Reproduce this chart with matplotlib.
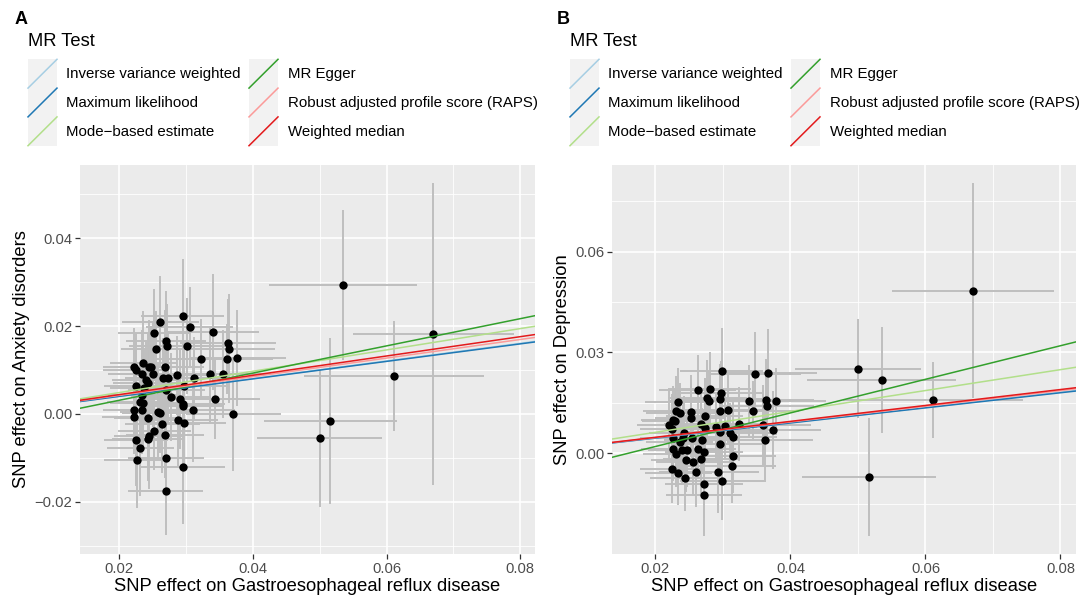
import matplotlib
matplotlib.use("Agg")
import matplotlib.pyplot as plt
from matplotlib.patches import Rectangle
from matplotlib.lines import Line2D

plt.rcParams['font.family'] = ['Liberation Sans', 'DejaVu Sans']

# ---- panel A: Gastroesophageal reflux disease -> Anxiety disorders ----
xA = [0.0262, 0.0295, 0.0306, 0.0253, 0.0340, 0.0270, 0.0272, 0.0255, 0.0301, 0.0363,
      0.0365, 0.0323, 0.0361, 0.0377, 0.0236, 0.0223, 0.0225, 0.0245, 0.0248, 0.0269,
      0.0235, 0.0251, 0.0286, 0.0336, 0.0356, 0.0241, 0.0244, 0.0266, 0.0274, 0.0312,
      0.0226, 0.0237, 0.0271, 0.0297, 0.0235, 0.0231, 0.0236, 0.0278, 0.0291, 0.0295,
      0.0296, 0.0343, 0.0310, 0.0223, 0.0235, 0.0223, 0.0258, 0.0261, 0.0244, 0.0371,
      0.0288, 0.0297, 0.0265, 0.0253, 0.0269, 0.0245, 0.0243, 0.0226, 0.0232, 0.0270,
      0.0227, 0.0296, 0.0270,
      0.0535, 0.0670, 0.0611, 0.0516, 0.0500]
yA = [0.0210, 0.0222, 0.0199, 0.0185, 0.0186, 0.0165, 0.0155, 0.0149, 0.0155, 0.0162,
      0.0149, 0.0126, 0.0125, 0.0127, 0.0115, 0.0106, 0.0100, 0.0108, 0.0106, 0.0106,
      0.0091, 0.0091, 0.0088, 0.0091, 0.0091, 0.0078, 0.0070, 0.0083, 0.0083, 0.0081,
      0.0063, 0.0060, 0.0054, 0.0064, 0.0043, 0.0028, 0.0026, 0.0039, 0.0035, 0.0023,
      0.0017, 0.0034, 0.0010, 0.0008, 0.0008, -0.0006, 0.0004, 0.0002, -0.0010, 0.0000,
      -0.0014, -0.0021, -0.0024, -0.0038, -0.0047, -0.0051, -0.0058, -0.0060, -0.0078, -0.0100,
      -0.0104, -0.0121, -0.0176,
      0.0293, 0.0183, 0.0086, -0.0017, -0.0055]
xerrA = [0.0058, 0.0062, 0.0065, 0.0055, 0.0070, 0.0060, 0.0057, 0.0052, 0.0064, 0.0072,
         0.0068, 0.0066, 0.0070, 0.0073, 0.0050, 0.0047, 0.0049, 0.0053, 0.0055, 0.0058,
         0.0051, 0.0054, 0.0061, 0.0069, 0.0071, 0.0052, 0.0053, 0.0057, 0.0059, 0.0064,
         0.0048, 0.0050, 0.0058, 0.0063, 0.0051, 0.0049, 0.0050, 0.0060, 0.0062, 0.0063,
         0.0061, 0.0068, 0.0064, 0.0047, 0.0050, 0.0048, 0.0056, 0.0057, 0.0052, 0.0071,
         0.0060, 0.0063, 0.0056, 0.0054, 0.0058, 0.0052, 0.0053, 0.0048, 0.0050, 0.0057,
         0.0049, 0.0063, 0.0056,
         0.0110, 0.0120, 0.0135, 0.0099, 0.0093]
yerrA = [0.0105, 0.0130, 0.0090, 0.0100, 0.0132, 0.0115, 0.0095, 0.0085, 0.0110, 0.0100,
         0.0125, 0.0090, 0.0080, 0.0110, 0.0120, 0.0090, 0.0085, 0.0105, 0.0095, 0.0130,
         0.0100, 0.0120, 0.0090, 0.0110, 0.0100, 0.0085, 0.0115, 0.0090, 0.0105, 0.0095,
         0.0110, 0.0085, 0.0125, 0.0100, 0.0095, 0.0090, 0.0110, 0.0100, 0.0115, 0.0085,
         0.0105, 0.0090, 0.0120, 0.0095, 0.0100, 0.0085, 0.0110, 0.0090, 0.0100, 0.0130,
         0.0105, 0.0095, 0.0110, 0.0090, 0.0100, 0.0120, 0.0095, 0.0105, 0.0110, 0.0100,
         0.0110, 0.0130, 0.0100,
         0.0171, 0.0344, 0.0125, 0.0189, 0.0157]

# ---- panel B: Gastroesophageal reflux disease -> Depression ----
xB = [0.0298, 0.0348, 0.0367, 0.0263, 0.0281, 0.0297, 0.0234, 0.0277, 0.0279, 0.0296,
      0.0338, 0.0364, 0.0379, 0.0365, 0.0231, 0.0237, 0.0252, 0.0252, 0.0296, 0.0308,
      0.0345, 0.0273, 0.0226, 0.0229, 0.0220, 0.0268, 0.0274, 0.0290, 0.0303, 0.0324,
      0.0360, 0.0296, 0.0310, 0.0374, 0.0225, 0.0226, 0.0242, 0.0241, 0.0254, 0.0315,
      0.0269, 0.0236, 0.0363, 0.0296, 0.0226, 0.0240, 0.0247, 0.0230, 0.0263, 0.0272,
      0.0315, 0.0245, 0.0256, 0.0268, 0.0314, 0.0225, 0.0234, 0.0260, 0.0292, 0.0244,
      0.0299, 0.0272, 0.0272,
      0.0670, 0.0500, 0.0535, 0.0611, 0.0516]
yB = [0.0244, 0.0237, 0.0239, 0.0187, 0.0192, 0.0180, 0.0153, 0.0163, 0.0155, 0.0162,
      0.0154, 0.0159, 0.0155, 0.0142, 0.0125, 0.0119, 0.0122, 0.0106, 0.0126, 0.0130,
      0.0126, 0.0110, 0.0100, 0.0096, 0.0083, 0.0086, 0.0076, 0.0078, 0.0082, 0.0088,
      0.0084, 0.0064, 0.0060, 0.0069, 0.0072, 0.0044, 0.0060, 0.0045, 0.0045, 0.0048,
      0.0040, 0.0034, 0.0039, 0.0028, 0.0012, 0.0010, 0.0010, -0.0002, 0.0013, 0.0005,
      -0.0008, -0.0021, -0.0027, -0.0017, -0.0037, -0.0047, -0.0060, -0.0055, -0.0057, -0.0073,
      -0.0084, -0.0092, -0.0125,
      0.0483, 0.0252, 0.0218, 0.0159, -0.0070]
xerrB = [0.0062, 0.0068, 0.0072, 0.0057, 0.0060, 0.0063, 0.0050, 0.0058, 0.0059, 0.0062,
         0.0066, 0.0071, 0.0074, 0.0070, 0.0049, 0.0051, 0.0054, 0.0053, 0.0061, 0.0064,
         0.0068, 0.0057, 0.0048, 0.0049, 0.0047, 0.0056, 0.0058, 0.0060, 0.0063, 0.0066,
         0.0070, 0.0062, 0.0064, 0.0072, 0.0048, 0.0049, 0.0052, 0.0051, 0.0054, 0.0065,
         0.0057, 0.0050, 0.0071, 0.0062, 0.0048, 0.0051, 0.0053, 0.0049, 0.0056, 0.0058,
         0.0064, 0.0052, 0.0055, 0.0057, 0.0065, 0.0048, 0.0050, 0.0055, 0.0061, 0.0052,
         0.0062, 0.0058, 0.0057,
         0.0120, 0.0093, 0.0110, 0.0133, 0.0099]
yerrB = [0.0130, 0.0125, 0.0130, 0.0105, 0.0110, 0.0095, 0.0100, 0.0115, 0.0090, 0.0105,
         0.0110, 0.0120, 0.0100, 0.0095, 0.0105, 0.0090, 0.0110, 0.0095, 0.0100, 0.0105,
         0.0090, 0.0115, 0.0100, 0.0095, 0.0110, 0.0090, 0.0105, 0.0100, 0.0095, 0.0110,
         0.0120, 0.0100, 0.0090, 0.0115, 0.0105, 0.0095, 0.0110, 0.0100, 0.0090, 0.0105,
         0.0095, 0.0110, 0.0125, 0.0100, 0.0095, 0.0105, 0.0110, 0.0100, 0.0090, 0.0105,
         0.0110, 0.0095, 0.0100, 0.0105, 0.0110, 0.0100, 0.0095, 0.0105, 0.0120, 0.0100,
         0.0115, 0.0100, 0.0120,
         0.0320, 0.0147, 0.0159, 0.0114, 0.0176]

# MR estimates (slope, intercept)
methods = ['Inverse variance weighted', 'Maximum likelihood', 'Mode\u2212based estimate',
           'MR Egger', 'Robust adjusted profile score (RAPS)', 'Weighted median']
colors = ['#A6CEE3', '#1F78B4', '#B2DF8A', '#33A02C', '#FB9A99', '#E31A1C']
slopeA = [0.201, 0.1995, 0.243, 0.310, 0.212, 0.220]
interA = [0.0, 0.0, 0.0, -0.0031, 0.0, 0.0]
slopeB = [0.227, 0.225, 0.311, 0.500, 0.233, 0.237]
interB = [0.0, 0.0, 0.0, -0.0080, 0.0, 0.0]

W, H = 1082, 599
fig = plt.figure(figsize=(W / 100, H / 100), dpi=100)


def fx(px):
    return px / W


def fy(py):
    return 1 - py / H


def panel(l, r, xs, ys, xe, ye, slopes, inters, xlim, ylim, xticks, yticks, ymin_ticks, ylab):
    ax = fig.add_axes([fx(l), fy(554), fx(r) - fx(l), fy(165) - fy(554)])
    ax.set_facecolor('#EBEBEB')
    for s in ax.spines.values():
        s.set_visible(False)
    ax.set_xlim(*xlim)
    ax.set_ylim(*ylim)
    ax.set_xticks(xticks)
    ax.set_xticklabels(['%.2f' % t for t in xticks])
    ax.set_yticks(yticks)
    ax.set_yticklabels([('%.2f' % t).replace('-', '\u2212') for t in yticks])
    ax.set_xticks([0.03, 0.05, 0.07], minor=True)
    ax.set_yticks(ymin_ticks, minor=True)
    ax.tick_params(which='major', length=3.5, width=0.9, color='#333333',
                   labelcolor='#4D4D4D', labelsize=10.6, pad=2)
    ax.tick_params(which='minor', length=0)
    ax.grid(which='major', color='white', lw=1.2)
    ax.grid(which='minor', color='white', lw=0.6)
    ax.set_axisbelow(True)
    ax.errorbar(xs, ys, xerr=xe, yerr=ye, fmt='none', ecolor='#BEBEBE',
                elinewidth=1.4, capsize=0, zorder=2)
    ax.scatter(xs, ys, s=36, color='black', zorder=3, linewidths=0)
    for m, b, c in zip(slopes, inters, colors):
        ax.axline((0, b), slope=m, color=c, lw=1.1, zorder=4)
    ax.set_xlabel('SNP effect on Gastroesophageal reflux disease', fontsize=13.2, labelpad=2)
    ax.set_ylabel(ylab, fontsize=13.2, labelpad=3)
    return ax


panel(80, 535, xA, yA, xerrA, yerrA, slopeA, interA,
      (0.01417, 0.0822), (-0.0319, 0.0567),
      [0.02, 0.04, 0.06, 0.08], [-0.02, 0.0, 0.02, 0.04], [-0.03, -0.01, 0.01, 0.03, 0.05],
      'SNP effect on Anxiety disorders')
panel(612, 1076, xB, yB, xerrB, yerrB, slopeB, interB,
      (0.01357, 0.0823), (-0.030, 0.0858),
      [0.02, 0.04, 0.06, 0.08], [0.0, 0.03, 0.06], [-0.015, 0.015, 0.045, 0.075],
      'SNP effect on Depression')


def legend(x0, letter):
    fig.text(fx(x0 - 13), fy(19.5), letter, fontsize=13, fontweight='bold', va='center')
    fig.text(fx(x0), fy(42), 'MR Test', fontsize=13.2, va='center')
    for i, (lab, c) in enumerate(zip(methods, colors)):
        col, row = divmod(i, 3)
        kx = x0 + col * 221
        ky = 59.3 + row * 28.8
        fig.add_artist(Rectangle((fx(kx), fy(ky + 28.8)), fx(29), fy(ky) - fy(ky + 28.8),
                                 facecolor='#F2F2F2', edgecolor='none'))
        fig.add_artist(Line2D([fx(kx), fx(kx + 29)], [fy(ky + 28.8), fy(ky)],
                              color=c, lw=1.1))
        fig.text(fx(kx + 38.5), fy(ky + 15), lab, fontsize=10.8, va='center')


legend(28, 'A')
legend(570, 'B')

fig.savefig('out.png', dpi=100)
